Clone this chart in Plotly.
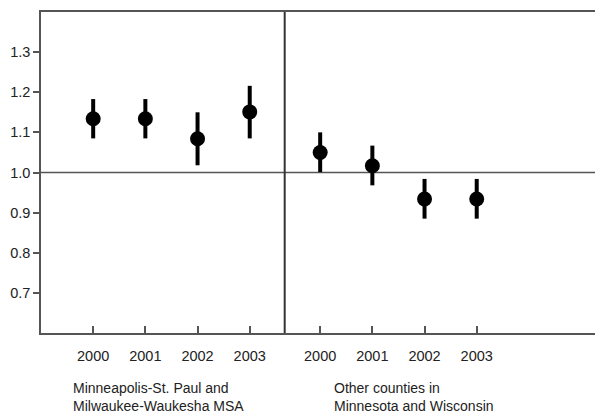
import plotly.graph_objects as go

years = ["2000", "2001", "2002", "2003"]
group_labels = ["Minneapolis-St. Paul and<br>Milwaukee-Waukesha MSA",
                "Other counties in<br>Minnesota and Wisconsin"]
metro_est = [1.134, 1.134, 1.084, 1.151]
metro_lo = [1.085, 1.085, 1.018, 1.085]
metro_hi = [1.183, 1.183, 1.150, 1.216]
other_est = [1.050, 1.017, 0.934, 0.934]
other_lo = [1.001, 0.968, 0.885, 0.885]
other_hi = [1.100, 1.067, 0.984, 0.984]
y_ticks = [0.7, 0.8, 0.9, 1.0, 1.1, 1.2, 1.3]

metro_x = [1.0, 2.0, 3.0, 4.0]
other_x = [5.35, 6.35, 7.35, 8.35]
divider_x = 4.67
label_x = [0.575, 5.575]

fig = go.Figure()
for xs, est, lo, hi in [(metro_x, metro_est, metro_lo, metro_hi),
                        (other_x, other_est, other_lo, other_hi)]:
    fig.add_trace(go.Scatter(
        x=xs, y=est, mode="markers",
        marker=dict(color="black", size=15),
        error_y=dict(type="data", symmetric=False,
                     array=[h - e for h, e in zip(hi, est)],
                     arrayminus=[e - l for e, l in zip(est, lo)],
                     color="black", thickness=4, width=0),
        showlegend=False, cliponaxis=False))

line_col = "#555555"
fig.add_shape(type="line", xref="paper", yref="y", x0=0, x1=1, y0=1.0, y1=1.0,
              line=dict(color=line_col, width=1.5), layer="below")
fig.add_shape(type="line", xref="x", yref="paper", x0=divider_x, x1=divider_x, y0=0, y1=1,
              line=dict(color="#333333", width=2), layer="below")

for lx, txt in zip(label_x, group_labels):
    fig.add_annotation(x=lx, y=-0.14, xref="x", yref="paper", text=txt,
                       showarrow=False, xanchor="left", yanchor="top", align="left",
                       font=dict(size=14, color="#222222"))

fig.update_layout(
    width=595, height=405,
    margin=dict(l=33, r=0, t=4, b=80),
    paper_bgcolor="white", plot_bgcolor="white",
    font=dict(family="Liberation Sans, Arial, sans-serif", size=14.5, color="#222222"),
    xaxis=dict(range=[0, 10.77], tickvals=metro_x + other_x, ticktext=years + years,
               ticks="inside", ticklen=7, tickcolor=line_col, tickwidth=1.5,
               showline=True, linecolor=line_col, linewidth=1.5, mirror=True,
               showgrid=False, zeroline=False, ticklabelstandoff=9),
    yaxis=dict(range=[0.6, 1.4], tickvals=y_ticks, ticktext=[f"{v:.1f}" for v in y_ticks],
               ticks="outside", ticklen=6, tickcolor=line_col, tickwidth=1.5,
               showline=True, linecolor=line_col, linewidth=1.5,
               showgrid=False, zeroline=False),
)

fig.write_html("out.html")
